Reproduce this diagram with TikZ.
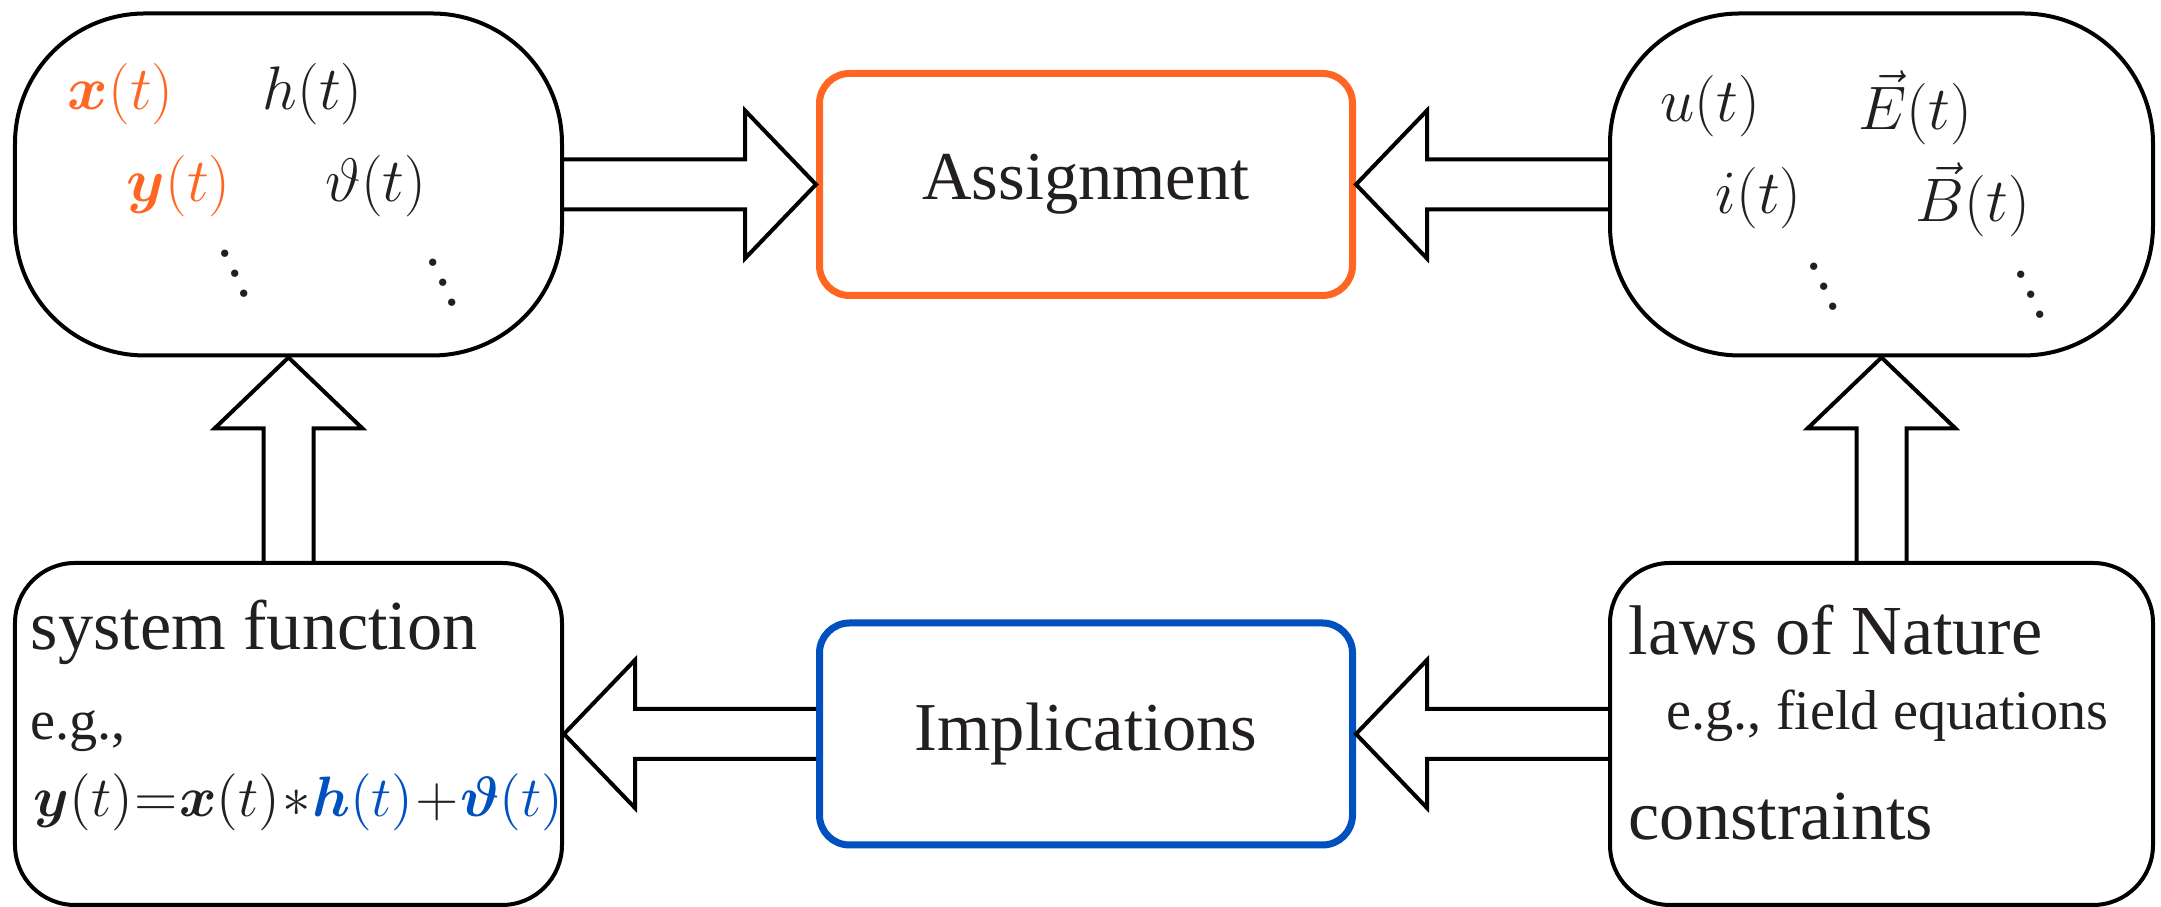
\RequirePackage{fix-cm}
\documentclass[tikz,border=0pt]{standalone}
\usepackage{amsmath,amssymb}
\usepackage{fontspec}
\setmainfont{Liberation Serif}
\usetikzlibrary{calc}
\definecolor{assignorange}{RGB}{255,102,34}
\definecolor{implblue}{RGB}{0,80,192}
\definecolor{inkblack}{RGB}{35,31,32}
% three steep dots, bottom dot on the baseline
\newcommand{\steepdots}{\raisebox{11.4pt}{.}\kern-1.7pt\raisebox{5.7pt}{.}\kern-1.7pt.}

\begin{document}
\begin{tikzpicture}[
  every node/.style={text=inkblack, inner sep=0pt},
  roundbox/.style={draw=black, line width=0.04cm, minimum width=5.47cm, minimum height=3.42cm},
  keybox/.style={line width=0.07cm, rounded corners=0.3cm, minimum width=5.33cm, minimum height=2.22cm, font=\fontsize{19.5}{23}\selectfont},
  sym/.style={anchor=base west, font=\fontsize{17.5}{21}\selectfont},
  txt/.style={anchor=base west, font=\fontsize{20}{24}\selectfont},
  eg/.style={anchor=base west, font=\fontsize{16}{19}\selectfont},
  fatarrow/.style={draw=black, line width=0.04cm, line join=miter, to path={
    ($(\tikztostart)!0.25cm!90:(\tikztotarget)$)
    -- ($(\tikztotarget)!0.71cm!(\tikztostart)!0.25cm!90:(\tikztotarget)$)
    -- ($(\tikztotarget)!0.71cm!(\tikztostart)!0.74cm!90:(\tikztotarget)$)
    -- (\tikztotarget)
    -- ($(\tikztotarget)!0.71cm!(\tikztostart)!0.74cm!-90:(\tikztotarget)$)
    -- ($(\tikztotarget)!0.71cm!(\tikztostart)!0.25cm!-90:(\tikztotarget)$)
    -- ($(\tikztostart)!0.25cm!-90:(\tikztotarget)$)}}
]
\useasboundingbox (0,0) rectangle (21.61,9.07);

% boxes
\node[roundbox, rounded corners=1.3cm] (signals) at (2.885,7.225) {};
\node[roundbox, rounded corners=1.3cm, minimum width=5.43cm] (quantities) at (18.815,7.225) {};
\node[roundbox, rounded corners=0.6cm] (sysfn) at (2.885,1.73) {};
\node[roundbox, rounded corners=0.6cm, minimum width=5.43cm] (laws) at (18.815,1.73) {};
\node[keybox, draw=assignorange] (assign) at (10.86,7.225) {Assignment};
\node[keybox, draw=implblue] (implic) at (10.86,1.73) {Implications};

% signals
\node[sym, text=assignorange] (xt) at (0.67,7.97) {$\boldsymbol{x}(t)$};
\node[sym] (ht) at (2.62,7.97) {$h(t)$};
\node[sym, text=assignorange] (yt) at (1.26,7.05) {$\boldsymbol{y}(t)$};
\node[sym] (vt) at (3.25,7.05) {$\vartheta(t)$};
\node[sym] (dotsa) at (2.17,6.10) {\steepdots};
\node[sym] (dotsb) at (4.25,6.01) {\steepdots};

% physical quantities
\node[sym] (ut) at (16.60,7.85) {$u(t)$};
\node[sym] (et) at (18.58,7.77) {$\vec{E}(t)$};
\node[sym] (it) at (17.15,6.93) {$i(t)$};
\node[sym] (bt) at (19.15,6.85) {$\vec{B}(t)$};
\node[sym] (dotsc) at (18.06,5.97) {\steepdots};
\node[sym] (dotsd) at (20.13,5.89) {\steepdots};

% system function
\node[txt] (sysname) at (0.30,2.57) {system function};
\node[eg] (syseg) at (0.30,1.67) {e.g.,};
\node[sym, font=\fontsize{16.2}{19}\selectfont] (syseq) at (0.33,0.90)
  {\thickmuskip=0.5mu \medmuskip=0.5mu
   $\boldsymbol{y}(t)=\boldsymbol{x}(t)*\textcolor{implblue}{\boldsymbol{h}(t)}+\textcolor{implblue}{\boldsymbol{\vartheta}(t)}$};

% laws of nature
\node[txt] (lawname) at (16.28,2.52) {laws of Nature};
\node[eg] (laweg) at (16.66,1.77) {e.g., field equations};
\node[txt] (lawcon) at (16.28,0.67) {constraints};

% block arrows
\draw[fatarrow] (signals.east) to (assign.west);
\draw[fatarrow] (quantities.west) to (assign.east);
\draw[fatarrow] (laws.west) to (implic.east);
\draw[fatarrow] (implic.west) to (sysfn.east);
\draw[fatarrow] (sysfn.north) to (signals.south);
\draw[fatarrow] (laws.north) to (quantities.south);
\end{tikzpicture}
\end{document}
